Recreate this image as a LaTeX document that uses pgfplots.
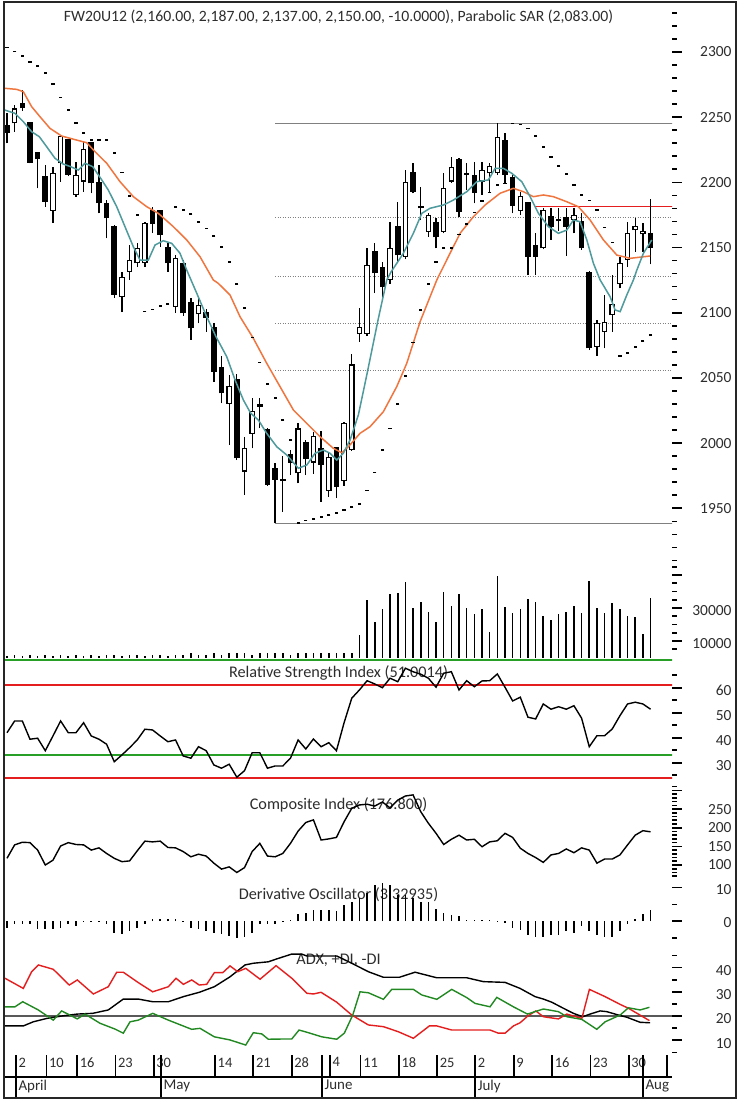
\documentclass[border=0pt]{standalone}
\usepackage{fontspec}
\setmainfont{Carlito}
\usepackage{pgfplots}
\usepackage{pgfplotstable}
\pgfplotsset{compat=1.18}
\definecolor{teal1}{RGB}{78,154,156}
\definecolor{orange1}{RGB}{240,118,64}
\definecolor{fibgray}{RGB}{128,128,128}
\definecolor{rred}{RGB}{228,30,30}
\definecolor{rgreen}{RGB}{40,160,40}
\definecolor{txt}{RGB}{45,45,45}

\pgfplotstableread{
i O H L C
1 2245.2 2259.3 2238.8 2256.7
6 2178.2 2212.0 2169.0 2207.4
7 2214.6 2236.3 2200.5 2235.5
9 2190.3 2215.8 2189.0 2205.6
10 2200.5 2231.1 2192.8 2225.5
15 2112.0 2131.2 2100.5 2127.4
16 2131.4 2151.9 2125.1 2140.4
17 2137.9 2153.5 2135.0 2149.4
18 2137.9 2169.6 2135.0 2169.0
22 2104.6 2144.2 2099.8 2142.2
25 2098.8 2112.3 2091.9 2105.9
29 2030.0 2052.2 1998.5 2043.8
31 1978.1 2004.9 1960.2 1996.0
32 2007.0 2034.4 1996.0 2024.6
38 1976.8 2015.6 1969.2 2011.3
40 1985.0 2008.7 1976.3 2005.7
42 1963.5 1993.4 1958.9 1989.6
44 1970.9 2016.4 1967.1 2015.6
45 1994.7 2068.3 1994.2 2060.4
46 2083.7 2103.4 2077.8 2088.8
47 2083.7 2149.4 2082.0 2136.6
50 2125.1 2169.8 2122.0 2149.6
52 2142.9 2209.4 2141.0 2200.5
55 2162.1 2176.2 2158.3 2174.9
57 2162.1 2206.9 2160.9 2195.4
58 2200.5 2219.6 2199.5 2212.0
62 2200.5 2215.8 2190.3 2209.4
63 2206.9 2214.6 2192.8 2212.7
64 2206.9 2245.2 2205.6 2235.0
67 2178.2 2192.8 2174.9 2189.5
70 2149.4 2180.1 2148.5 2178.8
74 2171.1 2180.1 2160.9 2174.9
77 2073.9 2094.4 2066.8 2091.9
78 2085.4 2113.6 2072.7 2093.1
79 2098.2 2128.9 2085.4 2106.6
80 2122.0 2142.9 2118.7 2137.9
81 2140.4 2169.8 2135.3 2160.9
82 2163.4 2172.4 2146.8 2166.5
83 2160.1 2169.0 2146.8 2162.7
}\whitec

\pgfplotstableread{
i O H L C
0 2243.2 2253.1 2229.9 2237.6
2 2260.1 2270.8 2255.0 2256.7
3 2245.2 2246.5 2214.6 2215.0
4 2222.2 2223.5 2195.4 2217.6
5 2204.3 2213.3 2181.3 2185.1
8 2232.4 2233.0 2204.8 2205.6
11 2229.9 2231.1 2191.6 2199.2
12 2199.2 2213.3 2176.2 2183.9
13 2183.4 2186.4 2157.1 2172.4
14 2166.0 2167.3 2111.3 2113.6
19 2178.2 2181.3 2161.1 2168.0
20 2178.2 2179.0 2150.6 2159.6
21 2149.4 2153.5 2131.4 2137.9
23 2137.1 2140.4 2097.5 2099.5
24 2107.2 2111.3 2079.1 2088.0
26 2099.8 2102.8 2085.4 2095.9
27 2088.0 2092.3 2047.1 2054.8
28 2057.4 2066.8 2030.5 2038.2
30 2048.4 2053.0 1987.0 1988.3
33 2029.2 2034.4 2011.3 2027.9
34 2010.0 2011.3 1967.1 1967.9
35 1979.9 1984.5 1938.5 1971.7
36 1971.7 1990.1 1947.4 1970.9
37 1990.9 1994.7 1975.5 1985.0
39 1999.8 2002.4 1975.5 1987.8
41 1995.2 2009.5 1955.1 1983.2
43 1996.0 1997.2 1957.7 1966.6
48 2146.8 2153.5 2115.1 2130.2
49 2134.3 2138.9 2111.3 2119.7
51 2166.0 2185.1 2137.9 2144.2
53 2206.9 2214.6 2191.6 2192.8
54 2180.8 2196.6 2171.1 2180.0
56 2168.6 2172.4 2149.4 2157.8
59 2217.1 2218.4 2173.6 2177.5
60 2206.4 2215.0 2194.1 2205.5
61 2204.8 2215.8 2183.9 2192.0
65 2231.7 2238.0 2199.2 2205.6
66 2203.1 2205.6 2176.2 2181.8
68 2183.9 2185.1 2128.9 2142.9
69 2151.1 2160.9 2128.9 2142.9
71 2173.6 2180.1 2155.8 2166.0
72 2170.8 2180.1 2163.0 2170.0
73 2172.4 2180.1 2143.5 2166.0
75 2169.8 2176.2 2148.1 2149.4
76 2130.2 2132.0 2071.4 2072.7
84 2160.0 2187.0 2137.0 2150.0
}\blackc

\pgfplotstableread{
i s
0 2303.5
1 2300.2
2 2296.9
3 2292.5
4 2289.4
5 2284.0
6 2275.2
7 2265.2
8 2255.4
9 2245.7
10 2237.6
11 2232.4
12 2232.4
13 2232.4
14 2222.7
15 2207.4
16 2189.5
17 2174.9
18 2100.8
19 2102.6
20 2105.1
21 2106.7
22 2181.3
23 2178.8
24 2175.5
25 2169.8
26 2164.7
27 2158.8
28 2150.2
29 2139.1
30 2122.0
31 2103.4
32 2081.1
33 2061.7
34 2045.3
35 2034.4
36 2017.7
37 2002.4
38 1938.5
39 1940.5
40 1941.8
41 1943.1
42 1944.9
43 1946.6
44 1948.7
45 1951.2
46 1953.3
47 1963.5
48 1977.3
49 1994.7
50 2011.3
51 2030.0
52 2051.5
53 2077.0
54 2102.1
55 2122.0
56 2139.1
57 2149.4
58 2149.4
59 2160.0
60 2168.0
61 2177.0
62 2185.9
63 2192.3
64 2198.0
65 2199.0
66 2245.2
67 2244.5
68 2241.4
69 2235.5
70 2227.3
71 2219.6
72 2212.5
73 2206.4
74 2197.9
75 2190.3
76 2186.0
77 2178.8
78 2165.5
79 2153.7
80 2066.8
81 2068.9
82 2073.9
83 2078.5
84 2083.0
}\sar

\pgfplotstableread{
x v
-0.26 2255.4
1.04 2252.9
2.13 2246.5
3.22 2238.8
4.22 2235.0
5.18 2227.3
6.27 2218.4
7.35 2214.0
8.32 2212.0
9.31 2209.4
10.18 2214.6
11.19 2212.0
12.23 2203.1
13.22 2194.1
14.32 2181.3
15.40 2166.0
16.49 2150.6
17.36 2140.4
18.45 2140.4
19.32 2151.9
20.40 2155.2
21.50 2153.2
22.58 2145.6
23.46 2132.7
24.77 2114.9
26.07 2096.9
27.28 2081.6
28.68 2066.3
29.77 2048.4
30.85 2033.1
31.81 2022.9
32.81 2017.7
33.90 2007.5
35.21 1997.2
36.51 1990.9
38.03 1980.7
39.13 1983.2
40.21 1992.2
41.29 1994.7
42.17 1992.2
43.04 1987.0
43.90 1992.2
44.78 2002.4
45.86 2021.5
46.96 2052.2
48.43 2094.4
49.57 2125.1
50.10 2131.0
51.74 2145.6
53.04 2160.9
54.14 2176.2
55.22 2180.1
56.96 2182.6
58.26 2186.4
60.01 2192.8
61.32 2200.5
62.83 2201.8
63.71 2210.7
64.79 2210.7
65.89 2206.9
67.19 2200.5
68.28 2189.0
69.36 2176.2
70.67 2166.0
71.97 2160.9
73.07 2163.4
73.93 2171.1
74.80 2169.8
75.68 2155.8
76.54 2137.9
77.42 2125.1
78.72 2112.3
79.37 2102.1
80.03 2100.8
80.90 2113.6
81.76 2125.1
82.21 2132.7
83.07 2145.6
84.16 2155.8
}\mashort

\pgfplotstableread{
x v
-0.26 2272.1
1.27 2271.3
2.13 2269.5
3.22 2258.0
4.31 2250.3
5.61 2241.4
7.14 2235.5
9.10 2232.4
10.40 2230.4
11.49 2223.5
13.02 2214.6
14.75 2200.5
16.49 2189.0
18.24 2181.3
19.75 2176.2
21.71 2166.0
23.46 2155.8
25.20 2142.9
26.93 2125.1
27.58 2122.5
29.11 2113.6
30.42 2096.9
32.15 2080.4
33.90 2061.2
35.64 2043.3
37.38 2025.4
39.12 2015.2
40.86 2004.9
42.60 1996.0
43.69 1992.6
44.56 1997.2
46.08 2007.5
47.39 2012.6
49.13 2024.1
50.87 2043.3
52.18 2061.2
53.92 2093.1
56.10 2125.1
57.83 2145.6
59.14 2160.9
60.87 2173.6
62.40 2182.6
64.36 2191.6
66.10 2195.4
67.40 2192.8
68.71 2189.0
70.01 2190.3
71.32 2189.0
73.07 2185.1
74.58 2181.3
76.11 2171.1
77.85 2155.8
79.60 2144.2
81.33 2141.7
83.94 2143.5
}\malong

\pgfplotstableread{
i v
0 1200
1 1400
2 1200
3 1300
4 1200
5 1500
6 1200
7 1300
8 1200
9 1400
10 1200
11 1300
12 1200
13 1500
14 1300
15 1200
16 1400
17 1300
18 1200
19 1400
20 1300
21 1200
22 1500
23 1300
24 2600
25 1500
26 1600
27 2600
28 1600
29 2800
30 2800
31 2600
32 1800
33 2600
34 2700
35 2600
36 2800
37 1800
38 2700
39 2600
40 2800
41 2700
42 2600
43 2800
44 2600
45 2900
46 13600
47 34800
48 21700
49 29400
50 38500
51 39100
52 45900
53 30200
54 33800
55 27800
56 21700
57 39900
58 31200
59 38300
60 30200
61 26200
62 29400
63 15600
64 49400
65 30400
66 26800
67 29200
68 35500
69 33800
70 25200
71 22700
72 26200
73 27800
74 31200
75 26800
76 46500
77 30200
78 26800
79 32800
80 29200
81 25200
82 24400
83 14100
84 36200
}\vol

\pgfplotstableread{
i v
0 42.0
1 46.7
2 46.7
3 39.4
4 39.8
5 34.8
6 40.7
7 46.7
8 42.0
9 42.0
10 46.0
11 40.7
12 39.4
13 37.4
14 30.4
15 33.1
16 36.0
17 39.1
18 43.4
19 43.1
20 40.7
21 38.4
22 39.1
23 32.7
24 31.8
25 36.4
26 34.8
27 29.1
28 27.8
29 29.4
30 24.2
31 26.8
32 34.0
33 34.0
34 27.8
35 28.7
36 28.7
37 31.8
38 39.1
39 35.5
40 39.5
41 36.4
42 38.0
43 34.8
44 46.0
45 55.8
46 59.1
47 62.8
48 61.5
49 60.0
50 63.8
51 62.4
52 67.8
53 66.4
54 65.4
55 63.8
56 60.2
57 65.8
58 66.4
59 59.1
60 62.8
61 60.4
62 62.7
63 62.8
64 65.5
65 60.2
66 54.7
67 56.2
68 48.2
69 47.5
70 53.5
71 51.4
72 52.4
73 51.4
74 52.8
75 47.8
76 36.4
77 40.8
78 40.8
79 43.5
80 48.8
81 53.5
82 54.2
83 53.5
84 51.4
}\rsi

\pgfplotstableread{
i v
0 118
1 154
2 161
3 160
4 140
5 100
6 113
7 151
8 160
9 155
10 154
11 140
12 146
13 131
14 118
15 109
16 111
17 138
18 164
19 162
20 164
21 147
22 146
23 136
24 122
25 129
26 124
27 105
28 89
29 95
30 80
31 93
32 136
33 158
34 124
35 122
36 131
37 158
38 191
39 214
40 221
41 167
42 170
43 174
44 216
45 252
46 261
47 263
48 258
49 269
50 253
51 274
52 285
53 288
54 243
55 212
56 185
57 155
58 169
59 180
60 167
61 169
62 149
63 162
64 165
65 185
66 174
67 145
68 131
69 120
70 107
71 127
72 131
73 143
74 133
75 146
76 140
77 105
78 116
79 116
80 127
81 154
82 180
83 192
84 189
}\comp

\pgfplotstableread{
i v
0 -2.0
1 -0.8
2 -0.8
3 -0.8
4 -2.5
5 -2.5
6 -2.5
7 -2.0
8 -0.8
9 -1.5
10 -0.3
11 -0.3
12 -0.3
13 -0.8
14 -3.5
15 -4.0
16 -3.0
17 -2.0
18 -0.8
19 0.5
20 0.6
21 0.6
22 0.6
23 -0.3
24 -2.0
25 -2.5
26 -3.0
27 -3.5
28 -4.0
29 -4.5
30 -5.0
31 -4.8
32 -3.5
33 -0.8
34 -0.8
35 -0.8
36 -0.3
37 0.3
38 2.0
39 2.5
40 3.3
41 3.3
42 3.3
43 3.0
44 4.8
45 5.8
46 6.9
47 8.4
48 10.9
49 11.4
50 10.9
51 7.9
52 7.9
53 6.9
54 5.8
55 5.8
56 3.5
57 2.3
58 1.8
59 1.5
60 0.4
61 0.3
62 0.3
63 0.3
64 -0.4
65 -0.5
66 -2.2
67 -2.7
68 -4.2
69 -4.7
70 -4.7
71 -4.2
72 -4.2
73 -3.0
74 -3.5
75 -1.5
76 -3.0
77 -4.2
78 -4.7
79 -4.7
80 -3.0
81 -1.0
82 0.5
83 2.0
84 3.3
}\dosc

\pgfplotstableread{
x v
-0.26 15.9
2.13 15.9
3.43 17.6
5.18 19.0
7.14 20.0
9.18 20.8
11.19 21.1
13.22 22.5
15.18 27.0
17.14 27.0
19.02 25.9
21.06 25.9
23.02 28.0
25.10 29.8
27.06 32.1
29.11 36.2
31.07 41.1
32.15 41.8
34.11 42.4
35.21 43.6
37.17 45.6
38.47 45.6
39.13 44.8
43.04 44.8
45.00 41.8
47.17 38.3
49.13 36.0
51.21 36.0
53.26 38.1
56.10 35.8
60.01 35.8
62.18 34.2
65.01 33.9
66.97 31.4
68.93 28.0
70.01 27.0
71.11 25.7
72.62 23.2
73.93 21.1
75.16 19.7
76.11 20.8
77.42 22.1
78.29 21.8
79.80 20.4
80.90 19.5
82.64 17.4
83.94 17.2
}\adx

\pgfplotstableread{
x v
-0.26 35.6
2.13 31.4
3.22 38.3
4.09 41.1
6.04 39.3
8.13 32.8
9.18 34.9
11.27 29.1
13.22 32.1
14.32 38.1
15.18 38.1
17.14 33.8
19.02 30.0
21.06 32.1
22.06 35.6
23.02 33.1
24.11 34.9
25.10 32.8
26.07 33.1
27.06 37.9
28.16 37.9
29.11 40.7
30.12 38.3
31.16 39.7
33.03 35.2
35.12 40.8
37.17 35.6
39.13 29.4
39.99 29.1
40.99 29.8
43.04 25.7
45.00 20.4
47.17 16.3
49.13 15.6
51.08 13.5
53.04 10.8
55.13 15.9
56.10 15.9
58.05 14.2
63.05 14.2
64.14 12.9
65.01 12.9
66.10 15.9
66.97 17.2
67.98 20.0
69.02 22.1
70.01 19.7
71.97 18.8
73.07 20.8
75.03 19.0
76.02 31.0
78.07 28.0
80.03 24.8
81.11 23.2
83.85 18.1
}\mdi

\pgfplotstableread{
x v
-0.26 23.8
1.04 23.8
2.05 25.9
4.09 22.5
6.04 18.3
7.14 22.1
9.18 18.8
10.18 20.8
12.14 17.0
14.10 14.6
15.18 12.9
16.06 17.6
17.14 18.3
19.02 21.1
21.06 18.3
24.11 14.5
25.20 14.9
27.06 11.4
29.11 10.1
31.16 8.0
32.15 13.1
33.25 12.6
34.11 10.4
36.16 10.5
37.17 10.5
38.12 14.2
39.13 13.3
41.08 11.4
43.04 10.4
44.03 12.9
45.13 20.4
46.08 30.0
47.17 29.6
49.13 26.9
50.22 31.0
53.04 31.0
54.14 28.7
56.10 26.9
58.05 31.0
60.01 27.6
61.10 25.2
63.05 23.8
63.93 27.7
66.10 23.8
67.93 20.8
70.01 22.9
71.97 21.8
73.07 19.7
75.03 18.6
76.98 14.5
78.07 17.6
80.03 20.4
81.11 23.4
82.64 22.5
83.85 23.6
}\pdi

\pgfplotsset{
  panel/.style={scale only axis, width=667bp, xmin=-0.26, xmax=86.8, anchor=north west,
    xtick=\empty, ytick=\empty, axis line style={draw=none}},
  scaleax/.style={scale only axis, width=59.7bp, xmin=0, xmax=1, anchor=north west,
    axis x line=none, axis y line*=left, axis line style={draw=none},
    tick align=inside, major tick length=0pt, minor tick length=0pt,
    yticklabel style={anchor=east, inner sep=0pt, xshift=59.7bp, font=\fontsize{15.5}{17}\selectfont, text=txt},
    scaled y ticks=false, clip=false},
  tk/.style={xcomb, black, line width=1.6bp, forget plot},
  ebar/.style={draw=none, mark=none, forget plot,
    error bars/.cd, y dir=plus, y explicit, error mark=none},
}
\tikzset{ttl/.style={font=\fontsize{16.3}{18}\selectfont, text=txt}}

\begin{document}
\begin{tikzpicture}
\useasboundingbox (0,0) rectangle (739bp,-1104bp);
\fill[white] (0,0) rectangle (739bp,-1104bp);

% ---------------- price panel
\begin{axis}[panel, at={(5bp,-5bp)}, height=560bp, ymin=1906.5, ymax=2336]
\addplot[fibgray, line width=1.5bp] coordinates {(35,2245) (87,2245)};
\addplot[fibgray, line width=1.5bp] coordinates {(35,1938.5) (87,1938.5)};
\addplot[fibgray, line width=1bp, dash pattern=on 1bp off 1.5bp] coordinates {(35,2172.7) (87,2172.7)};
\addplot[fibgray, line width=1bp, dash pattern=on 1bp off 1.5bp] coordinates {(35,2127.9) (87,2127.9)};
\addplot[fibgray, line width=1bp, dash pattern=on 1bp off 1.5bp] coordinates {(35,2091.8) (87,2091.8)};
\addplot[fibgray, line width=1bp, dash pattern=on 1bp off 1.5bp] coordinates {(35,2055.6) (87,2055.6)};
\addplot[rred, line width=1.5bp] coordinates {(68.9,2181.3) (87,2181.3)};
% wicks
\addplot[ebar, error bar style={draw=black, line width=1.3bp, solid}]
  table[x=i, y=L, y error expr=\thisrow{H}-\thisrow{L}] {\whitec};
\addplot[ebar, error bar style={draw=black, line width=1.3bp, solid}]
  table[x=i, y=L, y error expr=\thisrow{H}-\thisrow{L}] {\blackc};
% black bodies
\addplot[ebar, error bar style={draw=black, line width=5.6bp, solid}]
  table[x=i, y=C, y error expr=\thisrow{O}-\thisrow{C}+0.8] {\blackc};
% white bodies
\addplot[ebar, error bar style={draw=black, line width=5.6bp, solid}]
  table[x=i, y=O, y error expr=\thisrow{C}-\thisrow{O}] {\whitec};
\addplot[ebar, error bar style={draw=white, line width=3.2bp, solid}]
  table[x=i, y expr=\thisrow{O}+0.9, y error expr=\thisrow{C}-\thisrow{O}-1.8] {\whitec};
% moving averages
\addplot[orange1, line width=1.5bp] table[x=x, y=v] {\malong};
\addplot[teal1, line width=1.5bp] table[x=x, y=v] {\mashort};
% parabolic SAR
\addplot[only marks, mark=-, mark size=1.6bp, mark options={line width=1.6bp, black}] table[x=i, y=s] {\sar};
\node[font=\fontsize{15.8}{18}\selectfont, text=txt] at (rel axis cs:0.5,0.9786)
  {FW20U12 (2,160.00, 2,187.00, 2,137.00, 2,150.00, -10.0000), Parabolic SAR (2,083.00)};
\end{axis}
\begin{axis}[scaleax, at={(672bp,-5bp)}, height=560bp, ymin=1906.5, ymax=2336,
  ytick={1950,2000,2050,2100,2150,2200,2250,2300},
  yticklabels={1950,2000,2050,2100,2150,2200,2250,2300}]
\addplot[tk] coordinates {(0.084,1910) (0.084,1920) (0.084,1930) (0.084,1940) (0.084,1960) (0.084,1970) (0.084,1980) (0.084,1990) (0.084,2010) (0.084,2020) (0.084,2030) (0.084,2040) (0.084,2060) (0.084,2070) (0.084,2080) (0.084,2090) (0.084,2110) (0.084,2120) (0.084,2130) (0.084,2140) (0.084,2160) (0.084,2170) (0.084,2180) (0.084,2190) (0.084,2210) (0.084,2220) (0.084,2230) (0.084,2240) (0.084,2260) (0.084,2270) (0.084,2280) (0.084,2290) (0.084,2310) (0.084,2320) (0.084,2330)};
\addplot[tk] coordinates {(0.1675,1950) (0.1675,2000) (0.1675,2050) (0.1675,2100) (0.1675,2150) (0.1675,2200) (0.1675,2250) (0.1675,2300)};
\end{axis}

% ---------------- volume
\begin{axis}[panel, at={(5bp,-565bp)}, height=92.5bp, ymin=0, ymax=56060]
\addplot[ycomb, black, line width=1.6bp] table[x=i, y=v] {\vol};
\end{axis}
\begin{axis}[scaleax, at={(672bp,-565bp)}, height=92.5bp, ymin=0, ymax=56060,
  ytick={10000,30000}, yticklabels={10000,30000},
  yticklabel style={yshift=-2.5bp}]
\addplot[tk] coordinates {(0.084,5000) (0.084,15000) (0.084,20000) (0.084,25000) (0.084,35000) (0.084,40000) (0.084,45000) (0.084,55000)};
\addplot[tk] coordinates {(0.1675,10000) (0.1675,30000) (0.1675,50000)};
\end{axis}

% ---------------- RSI
\begin{axis}[panel, at={(5bp,-657.5bp)}, height=124.5bp, ymin=22.28, ymax=72.08]
\addplot[rgreen, line width=1.5bp] coordinates {(-1,71.1) (88,71.1)};
\addplot[rred, line width=1.5bp] coordinates {(-1,61.1) (88,61.1)};
\addplot[rgreen, line width=1.5bp] coordinates {(-1,33.1) (88,33.1)};
\addplot[rred, line width=1.5bp] coordinates {(-1,23.9) (88,23.9)};
\node[ttl] at (rel axis cs:0.5,0.8755) {Relative Strength Index (51.0014)};
\addplot[black, line width=1.4bp] table[x=i, y=v] {\rsi};
\end{axis}
\begin{axis}[scaleax, at={(672bp,-657.5bp)}, height=124.5bp, ymin=22.28, ymax=72.08,
  ytick={30,40,50,60}, yticklabels={30,40,50,60},
  yticklabel style={yshift=-2.5bp}]
\addplot[tk] coordinates {(0.084,25) (0.084,35) (0.084,45) (0.084,55) (0.084,65)};
\addplot[tk] coordinates {(0.1675,30) (0.1675,40) (0.1675,50) (0.1675,60)};
\end{axis}

% ---------------- Composite index
\begin{axis}[panel, at={(5bp,-782bp)}, height=98bp, ymin=59.8, ymax=322.5]
\node[ttl] at (rel axis cs:0.5,0.765) {Composite Index (176.800)};
\addplot[black, line width=1.4bp] table[x=i, y=v] {\comp};
\end{axis}
\begin{axis}[scaleax, at={(672bp,-782bp)}, height=98bp, ymin=59.8, ymax=322.5,
  ytick={100,150,200,250}, yticklabels={100,150,200,250}]
\addplot[tk] coordinates {(0.084,70) (0.084,80) (0.084,90) (0.084,110) (0.084,120) (0.084,130) (0.084,140) (0.084,160) (0.084,170) (0.084,180) (0.084,190) (0.084,210) (0.084,220) (0.084,230) (0.084,240) (0.084,260) (0.084,270) (0.084,280) (0.084,290) (0.084,310)};
\addplot[tk] coordinates {(0.1675,100) (0.1675,150) (0.1675,200) (0.1675,250) (0.1675,300)};
\end{axis}

% ---------------- Derivative oscillator
\begin{axis}[panel, at={(5bp,-880bp)}, height=65bp, ymin=-7.19, ymax=12.28]
\node[ttl] at (rel axis cs:0.5,0.769) {Derivative Oscillator (3.32935)};
\addplot[ycomb, black, line width=1.6bp] table[x=i, y=v] {\dosc};
\end{axis}
\begin{axis}[scaleax, at={(672bp,-880bp)}, height=65bp, ymin=-7.19, ymax=12.28,
  ytick={0,10}, yticklabels={0,10},
  yticklabel style={yshift=-1.5bp}]
\addplot[tk] coordinates {(0.084,-5) (0.084,5)};
\addplot[tk] coordinates {(0.1675,0) (0.1675,10)};
\end{axis}

% ---------------- ADX
\begin{axis}[panel, at={(5bp,-945bp)}, height=110bp, ymin=3.88, ymax=49.34]
\addplot[black!65, line width=1.1bp] coordinates {(-1,20) (88,20)};
\node[ttl] at (rel axis cs:0.5,0.857) {ADX, +DI, -DI};
\addplot[black, line width=1.4bp] table[x=x, y=v] {\adx};
\addplot[rred, line width=1.4bp] table[x=x, y=v] {\mdi};
\addplot[rgreen!85!black, line width=1.4bp] table[x=x, y=v] {\pdi};
\end{axis}
\begin{axis}[scaleax, at={(672bp,-945bp)}, height=110bp, ymin=3.88, ymax=49.34,
  ytick={10,20,30,40}, yticklabels={10,20,30,40},
  yticklabel style={yshift=-3bp}]
\addplot[tk] coordinates {(0.084,5) (0.084,15) (0.084,25) (0.084,35) (0.084,45)};
\addplot[tk] coordinates {(0.1675,10) (0.1675,20) (0.1675,30) (0.1675,40)};
\end{axis}

% ---------------- day ticks
\begin{axis}[scale only axis, width=667bp, height=22bp, at={(5bp,-1055bp)}, anchor=north west,
  xmin=-0.26, xmax=86.8, ymin=0, ymax=1,
  axis y line=none, axis x line*=top, axis line style={draw=none},
  xtick={1.15,5.15,9.15,14.15,19.15,27.15,32.15,37.15,42.15,46.15,51.15,56.15,61.1,66.15,71.15,76.15,81.15,86.15},
  xticklabels={2,10,16,23,30,14,21,28,4,11,18,25,2,9,16,23,30,{}},
  extra x ticks={20.1,41.1,83.0}, extra x tick labels={},
  tick align=inside, major tick length=22bp, tick style={draw=black, line width=1.8bp},
  xticklabel style={anchor=north west, inner sep=2.5bp, font=\fontsize{14.5}{16}\selectfont, text=txt}]
\end{axis}

% ---------------- months
\begin{axis}[scale only axis, width=667bp, height=21bp, at={(5bp,-1077bp)}, anchor=north west,
  xmin=-0.26, xmax=86.8, ymin=0, ymax=1,
  axis y line=none, axis x line*=top, axis line style={line width=1.8bp, black},
  xtick={1.15,20.1,41.1,61.1,83.0}, xticklabels={April,May,June,July,Aug},
  tick align=inside, major tick length=21bp, tick style={draw=black, line width=1.8bp},
  xticklabel style={anchor=north west, inner sep=2.5bp, font=\fontsize{15}{17}\selectfont, text=txt}]
\end{axis}

\draw[line width=1.6bp, black!85] (4bp,-2bp) rectangle (736bp,-1098bp);
\end{tikzpicture}
\end{document}
